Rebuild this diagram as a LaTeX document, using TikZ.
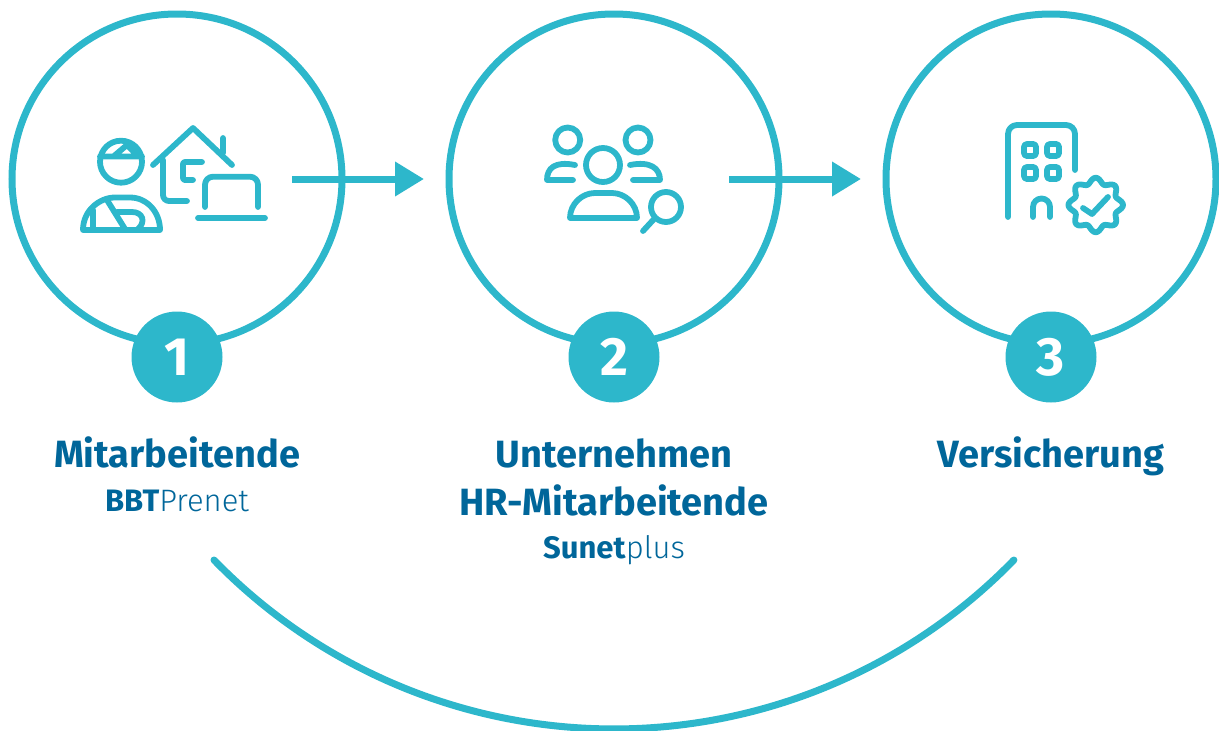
\documentclass[tikz,border=0pt]{standalone}
\usepackage{fontspec}
\setmainfont{Fira Sans}
\newfontfamily\lightfont{Fira Sans Light}
\usetikzlibrary{arrows.meta}
\definecolor{teal1}{HTML}{2DB7CB}
\definecolor{navy1}{HTML}{00669A}
\tikzset{
	bigcircle/.style={draw=teal1,line width=7pt,circle,minimum size=330pt,inner sep=0pt},
	badge/.style={fill=teal1,circle,minimum size=91pt,inner sep=0pt,text=white,font=\fontsize{54}{54}\selectfont\bfseries},
	titletext/.style={text=navy1,align=center,font=\fontsize{38}{49}\selectfont\bfseries,anchor=base},
	subtext/.style={text=navy1,font=\fontsize{31}{30}\selectfont,anchor=base},
	flow/.style={draw=teal1,line width=7pt,-{Triangle[length=29pt,width=33pt]}},
	icon/.style={draw=teal1,line width=5.8pt,line cap=round,line join=round},
}
\begin{document}
\begin{tikzpicture}[x=1pt,y=1pt]
	\useasboundingbox (0,-731) rectangle (1219,0);
	\foreach \n/\x in {1/177,2/614,3/1051}{
		\node[bigcircle] (circle\n) at (\x,-179) {};
		\node[badge] (badge\n) at (\x,-357) {\n};
	}
	% arrows
	\coordinate (start1) at (292,-179);
	\coordinate (end1) at (424,-179);
	\coordinate (start2) at (729,-179);
	\coordinate (end2) at (861,-179);
	\draw[flow] (start1)--(end1);
	\draw[flow] (start2)--(end2);
	% labels
	\node[titletext] (title1) at (177,-467) {Mitarbeitende};
	\node[subtext] (sub1) at (177,-511) {\textbf{BBT}{\lightfont Prenet}};
	\node[titletext] (title2) at (614,-467) {Unternehmen};
	\node[titletext] (title2b) at (614,-515) {HR-Mitarbeitende};
	\node[subtext] (sub2) at (614,-558) {\textbf{Sunet}{\lightfont plus}};
	\node[titletext] (title3) at (1051,-467) {Versicherung};
	% bottom arc
	\draw[teal1,line width=7pt,line cap=round] (214,-560) arc[start angle=224.2,end angle=315.8,radius=557.9];
	% icon 1
	\draw[icon] (121,-161.7) circle(21);
	\draw[icon] (100,-156.5)--(142,-156.5) (114,-156)--(127,-145)--(136,-154);
	\draw[icon] (83,-230)--(160,-230) .. controls (160,-212) and (147,-197.5) .. (130,-197.5)--(115,-197.5) .. controls (100,-197.5) and (83,-210) .. (83,-230)--cycle;
	\draw[icon] (93,-210)--(93,-230) (107,-200)--(125,-229) (117,-212)--(132,-212) .. controls (143,-212) and (146,-222) .. (138,-229);
	\draw[icon] (153,-165)--(193,-128)--(232,-165) (223,-138)--(223,-153);
	\draw[icon,rounded corners=6pt] (163,-160)--(163,-201)--(187,-201);
	\draw[icon,rounded corners=2pt] (202,-162)--(183,-162)--(183,-180)--(193,-180);
	\draw[icon,rounded corners=8pt] (205,-207)--(205,-176.7)--(258,-176.7)--(258,-207);
	\draw[icon] (198,-218)--(265,-218);
	% icon 2
	\draw[icon] (603,-165) circle(17) (567.7,-140) circle(12.5) (638,-140) circle(12.5) (666,-207) circle(15);
	\draw[icon] (570,-218)--(637,-218) .. controls (637,-204) and (625,-193) .. (612,-193)--(595,-193) .. controls (582,-193) and (570,-204) .. (570,-218)--cycle;
	\draw[icon] (575,-165) .. controls (555,-161) and (547,-168) .. (547,-180)--(573,-180);
	\draw[icon] (630,-165) .. controls (650,-161) and (660,-168) .. (660,-180)--(633,-180);
	\draw[icon] (655,-218)--(643,-231);
	% icon 3
	\draw[icon,rounded corners=9pt] (1008,-217)--(1008,-125)--(1075,-125)--(1075,-170);
	\foreach \x in {1030,1053}
	\foreach \y in {-150,-173}
	\draw[icon,rounded corners=3pt] (\x-6,\y-6) rectangle (\x+6,\y+6);
	\draw[icon] (1033,-217)--(1033,-207) arc[start angle=180,end angle=0,radius=8.5]--(1050,-217);
	\draw[icon,samples=97,smooth,domain=0:360] plot({1095.7+(24.5+2.8*cos(8*\x))*cos(\x)},{-205+(24.5+2.8*cos(8*\x))*sin(\x)})--cycle;
	\draw[icon] (1083,-208)--(1092,-214)--(1108,-197);
\end{tikzpicture}
\end{document}
